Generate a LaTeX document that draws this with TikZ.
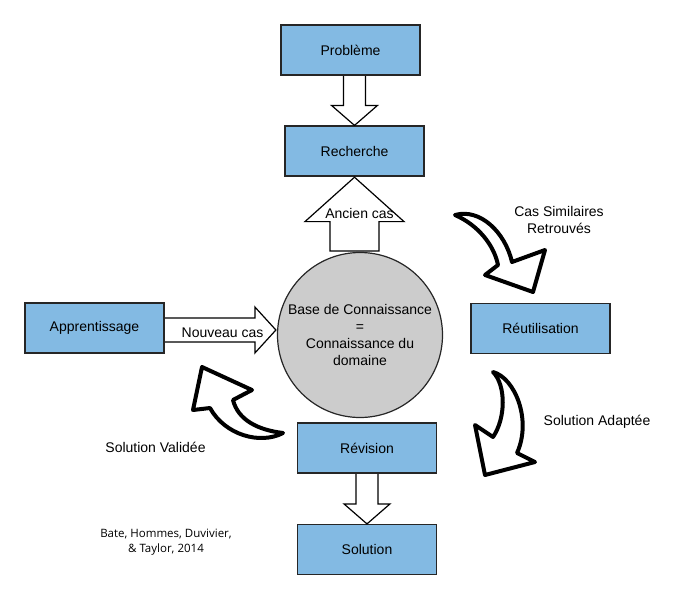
\documentclass[tikz,border=0pt]{standalone}
\usepackage{fontspec}
\setmainfont{Liberation Sans}
\newfontfamily\citefont{Open Sans}
\usetikzlibrary{calc}
\definecolor{boxblue}{RGB}{131,186,227}
\definecolor{basegray}{RGB}{204,204,204}
\tikzset{
  etape/.style={draw=black!85,line width=1.2pt,fill=boxblue,minimum width=139pt,minimum height=50pt,inner sep=0pt},
  fleche/.style={draw=black,line width=1.2pt,fill=white,line join=miter},
  courbe/.style={draw=black,line width=4pt,fill=white,line join=round},
  legende/.style={inner sep=0pt,align=center}
}
\begin{document}
\begin{tikzpicture}[x=1pt,y=-1pt,font=\fontsize{14}{17}\selectfont]
			\useasboundingbox (0,0) rectangle (699,600);

			\node[etape] (prob) at (350.5,50) {Problème};
			\node[etape] (rech) at (354.5,151) {Recherche};
			\node[etape] (appr) at (94.5,328) {Apprentissage};
			\node[etape] (reut) at (540.5,328.5) {Réutilisation};
			\node[etape] (revi) at (367,448) {Révision};
			\node[etape] (solu) at (367,549.5) {Solution};
			\node[circle,draw=black!85,line width=1.2pt,fill=basegray,minimum size=165pt,inner sep=0pt,align=center] (base) at (360,335)
			    {Base de Connaissance\\=\\Connaissance du\\domaine};

			\draw[fleche] ($(prob.south -| rech.north)+(-11,0.6)$) -- ($(rech.north)+(-11,-20)$) -- ($(rech.north)+(-23,-20)$)
			    -- (rech.north) -- ($(rech.north)+(23,-20)$) -- ($(rech.north)+(11,-20)$) -- ($(prob.south -| rech.north)+(11,0.6)$);
			\draw[fleche] ($(base.north -| rech.south)+(-24.5,-1)$) -- ($(rech.south)+(-24.5,45)$) -- ($(rech.south)+(-49.5,45)$)
			    -- ($(rech.south)+(0,0.6)$) -- ($(rech.south)+(49.5,45)$) -- ($(rech.south)+(24.5,45)$) -- ($(base.north -| rech.south)+(24.5,-1)$) -- cycle;
			\draw[fleche] ($(appr.east)+(0.6,-10)$) -- ($(base.west |- appr.east)+(-22,-10)$) -- ($(base.west |- appr.east)+(-22,-21)$)
			    -- ($(base.west |- appr.east)+(-1,2)$) -- ($(base.west |- appr.east)+(-22,25)$) -- ($(base.west |- appr.east)+(-22,14)$) -- ($(appr.east)+(0.6,14)$);
			\draw[fleche] ($(revi.south)+(-11,0.6)$) -- ($(solu.north)+(-11,-20)$) -- ($(solu.north)+(-23,-20)$)
			    -- (solu.north) -- ($(solu.north)+(23,-20)$) -- ($(solu.north)+(11,-20)$) -- ($(revi.south)+(11,0.6)$);

			\node[legende] (ancien) at ($(rech.south)+(5,37)$) {Ancien cas};
			\node[legende] (nouveau) at ($(appr.east)+(58,5)$) {Nouveau cas};

			\draw[courbe] (455,215) .. controls (480,208) and (505,232) .. (512,262) -- (545,250) -- (533,292)
			    -- (485,275) -- (498,265) .. controls (494,245) and (478,225) .. cycle;
			\draw[courbe] (493,372) .. controls (515,378) and (532,420) .. (517,453) -- (535,462) -- (485,475)
			    -- (475,425) -- (493,437) .. controls (506,418) and (506,385) .. cycle;
			\draw[courbe] (283,433) .. controls (258,430) and (238,420) .. (233,400) -- (252,390) -- (202,367)
			    -- (193,410) -- (210,408) .. controls (225,435) and (260,445) .. cycle;

			\node[legende] (cassim) at (559,220) {Cas Similaires\\Retrouvés};
			\node[legende] (soladapt) at (597,422) {Solution Adaptée};
			\node[legende] (solvalid) at (155.5,447) {Solution Validée};
			\node[legende,font=\citefont\fontsize{11.5}{15}\selectfont] (source) at (166,542.5) {Bate, Hommes, Duvivier,\\\& Taylor, 2014};
		    \end{tikzpicture}
\end{document}
